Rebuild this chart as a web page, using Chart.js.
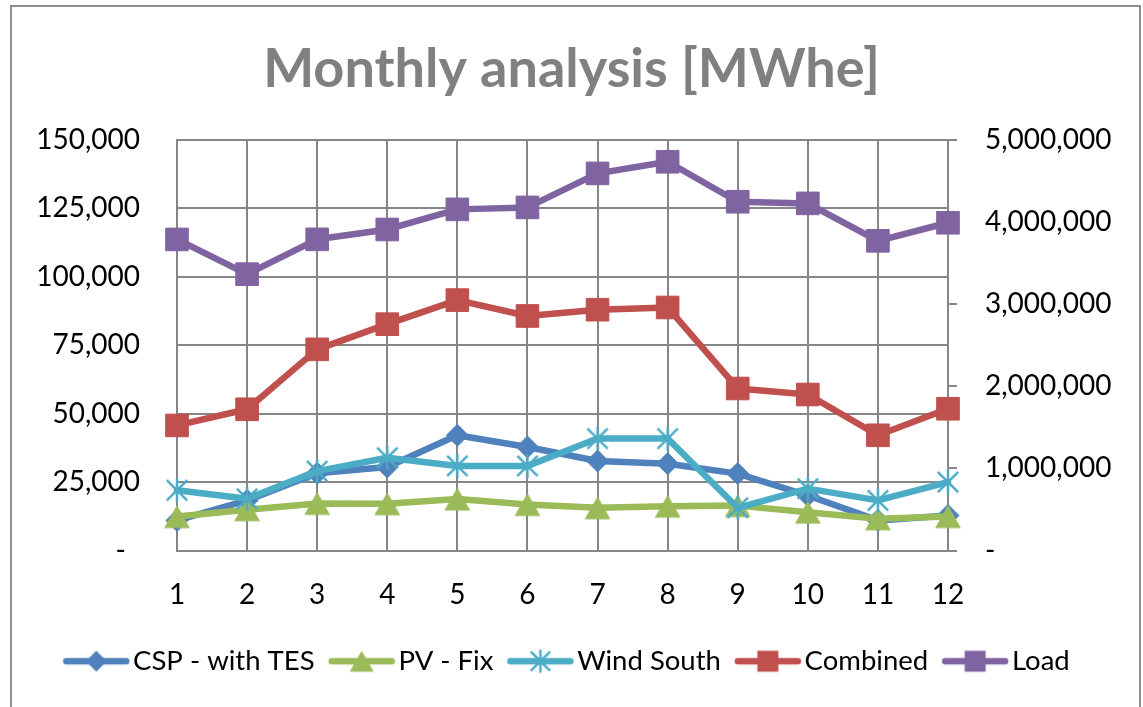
<!DOCTYPE html>
<html><head><meta charset="utf-8">
<script src="https://cdn.jsdelivr.net/npm/chart.js@4.4.1/dist/chart.umd.min.js"></script>
<style>
html,body{margin:0;padding:0;background:#fff;}
#wrap{position:relative;width:1143px;height:707px;overflow:hidden;}
#frame{position:absolute;left:10px;top:5px;width:1127px;height:720px;border:2px solid #8e8e8e;}
canvas{position:absolute;left:0;top:0;}
</style></head><body>
<div id="wrap"><div id="frame"></div><canvas id="c" width="1143" height="707"></canvas></div>
<script>
// ---- data ----
const months = ['1','2','3','4','5','6','7','8','9','10','11','12'];
const seriesNames = ['CSP - with TES','PV - Fix','Wind South','Combined','Load'];
const cspWithTES = [11000, 18300, 28200, 30500, 42100, 37800, 32700, 31700, 28100, 20100, 11000, 12800];
const pvFix      = [12400, 14900, 17200, 17100, 18800, 16800, 15600, 16200, 16400, 14000, 11600, 12400];
const windSouth  = [22000, 18900, 29000, 33900, 30900, 30900, 40900, 40900, 15600, 22600, 18300, 25000];
const combined   = [45700, 51600, 73500, 82700, 91500, 85700, 88000, 88800, 59200, 57000, 42100, 51800];
const load       = [3789000, 3366000, 3790000, 3910000, 4155000, 4179000, 4593000, 4735000, 4248000, 4228000, 3772000, 3992000];
const leftAxis   = {min:0, max:150000, step:25000};
const rightAxis  = {min:0, max:5000000, step:1000000};

// ---- styles ----
const FONT = 'Lato, "Open Sans", sans-serif';
const GRID = '#868686';
const C_CSP = '#4F81BD', C_PV = '#9BBB59', C_WIND = '#4BACC6', C_COMB = '#C0504D', C_LOAD = '#8064A2';
Chart.defaults.font.family = FONT;
Chart.defaults.color = '#000';

function mk(w,h,draw){const c=document.createElement('canvas');c.width=w;c.height=h;const x=c.getContext('2d');draw(x,w,h);return c;}
function diamond(x,cx,cy,r,col){x.fillStyle=col;x.beginPath();x.moveTo(cx,cy-r);x.lineTo(cx+r,cy);x.lineTo(cx,cy+r);x.lineTo(cx-r,cy);x.closePath();x.fill();}
function tri(x,cx,cy,w,h,col){x.fillStyle=col;x.beginPath();x.moveTo(cx,cy-h/2);x.lineTo(cx+w/2,cy+h/2);x.lineTo(cx-w/2,cy+h/2);x.closePath();x.fill();}
function star(x,cx,cy,r,col){x.strokeStyle=col;x.lineWidth=2.5;x.beginPath();
  x.moveTo(cx,cy-r);x.lineTo(cx,cy+r);
  const d=r*0.85;x.moveTo(cx-d,cy-d);x.lineTo(cx+d,cy+d);x.moveTo(cx+d,cy-d);x.lineTo(cx-d,cy+d);x.stroke();}
function square(x,cx,cy,s,col){x.fillStyle=col;x.fillRect(cx-s/2,cy-s/2,s,s);}

const triImg  = mk(28,26,(x,w,h)=>tri(x,w/2,h/2,26,23,C_PV));
const starImg = mk(28,28,(x,w,h)=>star(x,w/2,h/2,12,C_WIND));

function legendImg(col, marker){
  return mk(68,26,(x,w,h)=>{
    x.strokeStyle=col;x.lineWidth=6.5;x.lineCap='round';
    x.beginPath();x.moveTo(4,h/2);x.lineTo(w-4,h/2);x.stroke();
    marker(x,w/2,h/2);
  });
}
const legendImgs = [
  legendImg(C_CSP,(x,cx,cy)=>diamond(x,cx,cy,10.5,C_CSP)),
  legendImg(C_PV,(x,cx,cy)=>tri(x,cx,cy,24,21,C_PV)),
  legendImg(C_WIND,(x,cx,cy)=>star(x,cx,cy,10.5,C_WIND)),
  legendImg(C_COMB,(x,cx,cy)=>square(x,cx,cy,21,C_COMB)),
  legendImg(C_LOAD,(x,cx,cy)=>square(x,cx,cy,21,C_LOAD))
];

function ds(label,data,col,axis,pStyle,pRad,order){
  return {label,data,yAxisID:axis,borderColor:col,backgroundColor:col,
    borderWidth:6.5,tension:0,borderJoinStyle:'round',borderCapStyle:'round',
    pointStyle:pStyle,pointRadius:pRad,pointHoverRadius:pRad,pointBorderWidth:1,
    pointBackgroundColor:col,pointBorderColor:col,clip:false,order};
}

new Chart(document.getElementById('c'),{
  type:'line',
  data:{
    labels:months,
    datasets:[
      ds(seriesNames[0],cspWithTES,C_CSP,'y','rectRot',11,5),
      ds(seriesNames[1],pvFix,C_PV,'y',triImg,13,4),
      ds(seriesNames[2],windSouth,C_WIND,'y',starImg,12,3),
      ds(seriesNames[3],combined,C_COMB,'y','rect',16,2),
      ds(seriesNames[4],load,C_LOAD,'y1','rect',16,1)
    ]
  },
  options:{
    responsive:false,animation:false,devicePixelRatio:1,
    layout:{padding:{top:0,left:0,right:0,bottom:22}},
    plugins:{
      title:{display:true,text:'Monthly analysis [MWhe]',color:'#808080',
        font:{size:54,weight:'bold',family:FONT},padding:{top:37,bottom:38.2}},
      legend:{position:'bottom',
        labels:{usePointStyle:true,pointStyleWidth:46,padding:24,color:'#000',font:{size:27.5,family:FONT},
          sort:(a,b)=>a.datasetIndex-b.datasetIndex,
          generateLabels(chart){
            const items=Chart.defaults.plugins.legend.labels.generateLabels(chart);
            items.forEach(it=>{it.pointStyle=legendImgs[it.datasetIndex];it.rotation=0;});
            return items;
          }}},
      tooltip:{enabled:false}
    },
    scales:{
      x:{type:'category',offset:false,
        grid:{color:GRID,lineWidth:2,drawTicks:false},border:{color:GRID,width:2},
        ticks:{font:{size:28},padding:28,color:'#000',maxRotation:0,autoSkip:false},
        afterFit(s){s.height=73;}},
      y:{position:'left',min:leftAxis.min,max:leftAxis.max,
        ticks:{stepSize:leftAxis.step,font:{size:28},padding:37,color:'#000',
          callback:v=>v===0?'-\u2002':v.toLocaleString('en-US')},
        grid:{color:GRID,lineWidth:2,drawTicks:false},border:{color:GRID,width:2},
        afterFit(s){s.width=177;}},
      y1:{position:'right',min:rightAxis.min,max:rightAxis.max,
        ticks:{stepSize:rightAxis.step,font:{size:28},padding:28,color:'#000',
          callback:v=>v===0?'-':v.toLocaleString('en-US')},
        grid:{drawOnChartArea:false,color:GRID,lineWidth:2,tickLength:9},border:{color:GRID,width:2},
        afterFit(s){s.width=195;}}
    }
  }
});
</script>
</body></html>
